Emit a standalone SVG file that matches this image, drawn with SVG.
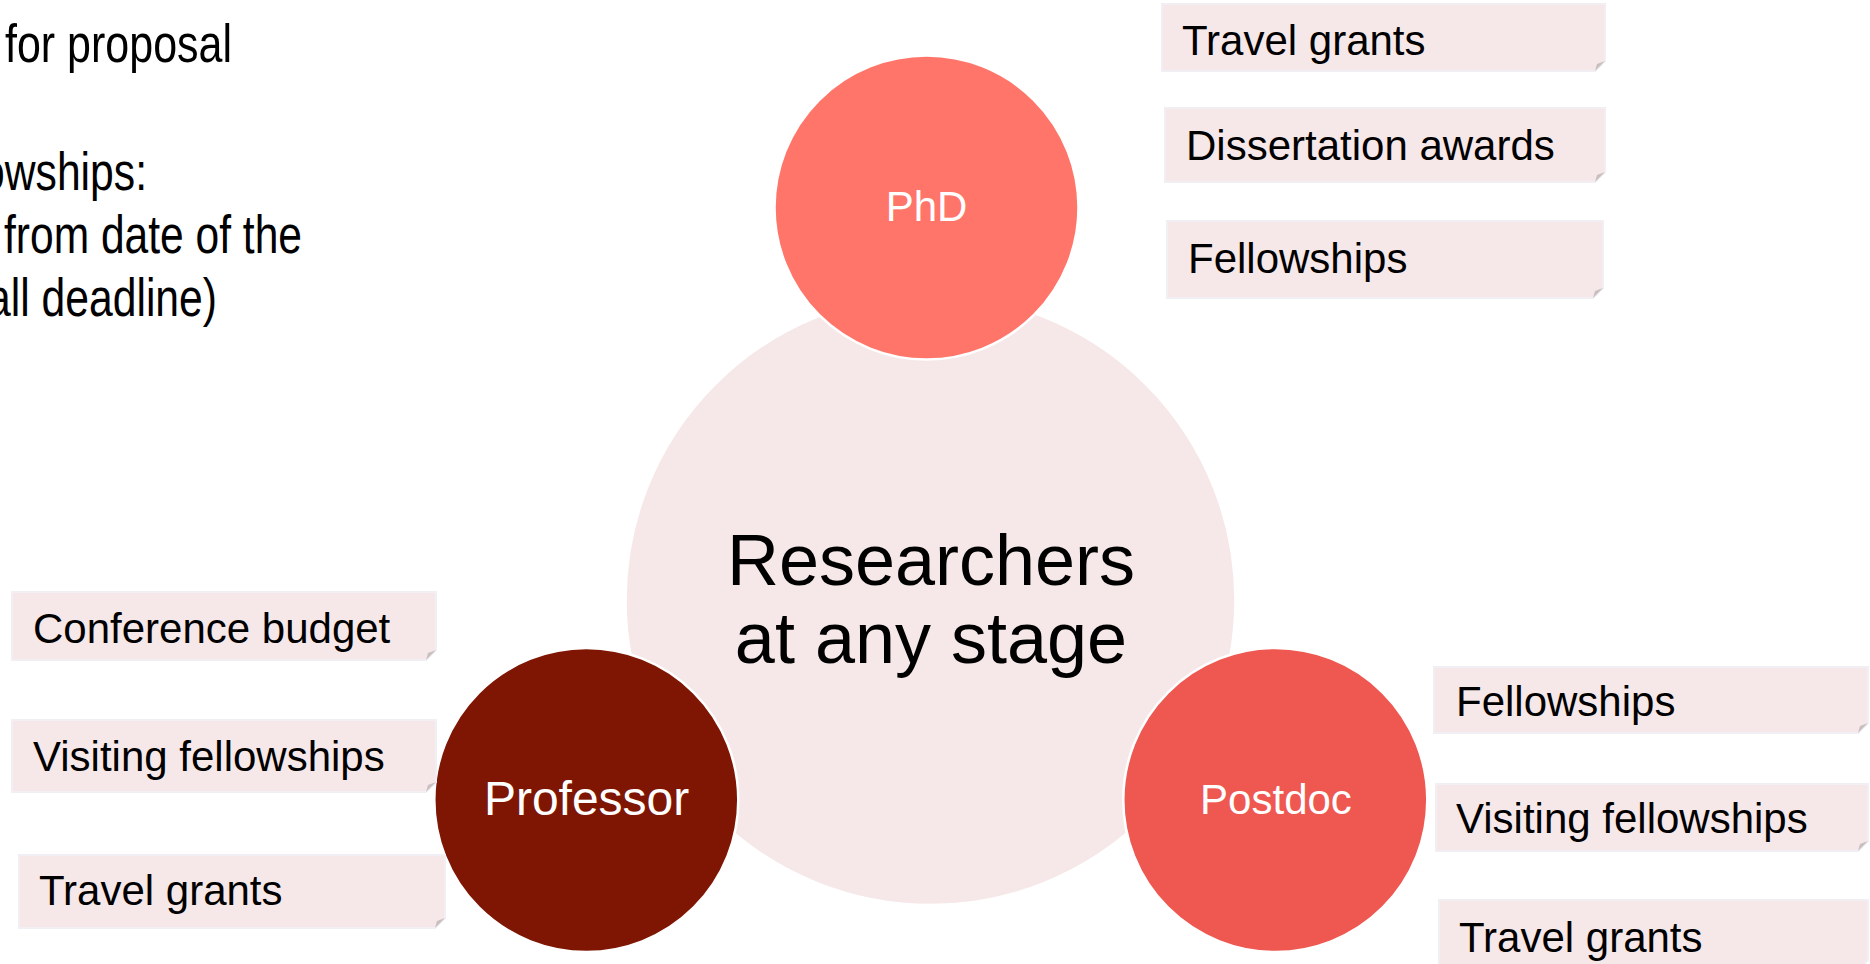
<svg xmlns="http://www.w3.org/2000/svg" width="1870" height="964" viewBox="0 0 1870 964">
<style>
.box{fill:#F6E8E8;stroke:#F1EEF4;stroke-width:2}
.fold{fill:#C9BFC0;stroke:none}
.bt{font-family:"Liberation Sans",Arial,sans-serif;font-size:42px;fill:#000}
.lt{font-family:"Liberation Sans",Arial,sans-serif;font-size:54px;fill:#000}
.ct{font-family:"Liberation Sans",Arial,sans-serif;fill:#fff;text-anchor:middle}
.sat{stroke:#fff;stroke-width:2.5}
</style>
<rect width="1870" height="964" fill="#fff"/>
<g id="side-text">
<text class="lt" x="5" y="62" textLength="227" lengthAdjust="spacingAndGlyphs">for proposal</text>
<text class="lt" x="-19" y="190" textLength="166" lengthAdjust="spacingAndGlyphs">owships:</text>
<text class="lt" x="4" y="253" textLength="298" lengthAdjust="spacingAndGlyphs">from date of the</text>
<text class="lt" x="-13" y="316" textLength="230" lengthAdjust="spacingAndGlyphs">all deadline)</text>
</g>
<g id="center">
<circle cx="930.5" cy="600" r="304.5" fill="#F6E8E8" stroke="#fff" stroke-width="1.5"/>
<text x="931" y="585" font-family="Liberation Sans, Arial, sans-serif" font-size="72" text-anchor="middle">Researchers</text>
<text x="931" y="663" font-family="Liberation Sans, Arial, sans-serif" font-size="72" text-anchor="middle">at any stage</text>
</g>
<g id="connectors"></g>
<g id="phd">
<circle class="sat" cx="926.5" cy="207.5" r="152" fill="#FF756A"/>
<text class="ct" x="926.5" y="221" font-size="42">PhD</text>
</g>
<g id="professor">
<circle class="sat" cx="586.3" cy="800" r="152" fill="#7F1603"/>
<text class="ct" x="586.6" y="815" font-size="48">Professor</text>
</g>
<g id="postdoc">
<circle class="sat" cx="1275.3" cy="800" r="152" fill="#EF5751"/>
<text class="ct" x="1276" y="814" font-size="42">Postdoc</text>
</g>
<g id="phd-travel">
<path class="box" d="M1162,4 H1605 V61 L1595,71 H1162 Z"/><path class="fold" d="M1595,71 L1605,61 L1597,64 Z"/>
<text class="bt" x="1182" y="55">Travel grants</text>
</g>
<g id="phd-dissertation">
<path class="box" d="M1165,108 H1605 V172 L1595,182 H1165 Z"/><path class="fold" d="M1595,182 L1605,172 L1597,175 Z"/>
<text class="bt" x="1186" y="160">Dissertation awards</text>
</g>
<g id="phd-fellowships">
<path class="box" d="M1167,221 H1603 V288 L1593,298 H1167 Z"/><path class="fold" d="M1593,298 L1603,288 L1595,291 Z"/>
<text class="bt" x="1188" y="273">Fellowships</text>
</g>
<g id="prof-conference">
<path class="box" d="M12,592 H436 V650 L426,660 H12 Z"/><path class="fold" d="M426,660 L436,650 L428,653 Z"/>
<text class="bt" x="33" y="643">Conference budget</text>
</g>
<g id="prof-visiting">
<path class="box" d="M12,720 H436 V782 L426,792 H12 Z"/><path class="fold" d="M426,792 L436,782 L428,785 Z"/>
<text class="bt" x="33" y="771">Visiting fellowships</text>
</g>
<g id="prof-travel">
<path class="box" d="M19,855 H445 V918 L435,928 H19 Z"/><path class="fold" d="M435,928 L445,918 L437,921 Z"/>
<text class="bt" x="39" y="905">Travel grants</text>
</g>
<g id="postdoc-fellowships">
<path class="box" d="M1434,667 H1868 V723 L1858,733 H1434 Z"/><path class="fold" d="M1858,733 L1868,723 L1860,726 Z"/>
<text class="bt" x="1456" y="716">Fellowships</text>
</g>
<g id="postdoc-visiting">
<path class="box" d="M1436,784 H1868 V841 L1858,851 H1436 Z"/><path class="fold" d="M1858,851 L1868,841 L1860,844 Z"/>
<text class="bt" x="1456" y="833">Visiting fellowships</text>
</g>
<g id="postdoc-travel">
<path class="box" d="M1439,900 H1868 V960 L1858,970 H1439 Z"/>
<text class="bt" x="1459" y="952">Travel grants</text>
</g>
</svg>
